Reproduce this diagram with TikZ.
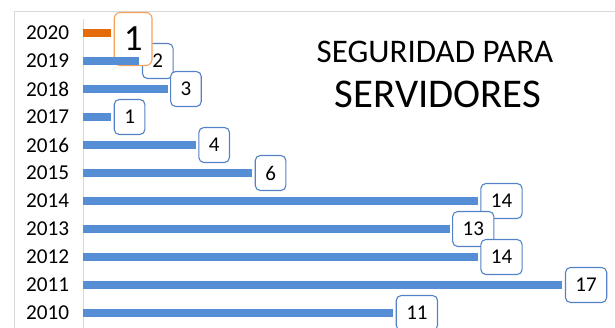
\documentclass[tikz,border=0pt]{standalone}
\usepackage{fontspec}
\setmainfont{Carlito}
\usetikzlibrary{positioning}
\definecolor{barblue}{RGB}{85,142,213}
\definecolor{barorange}{RGB}{228,108,10}
\definecolor{boxblue}{RGB}{84,130,200}
\definecolor{boxorange}{RGB}{246,160,90}
\definecolor{gridgray}{RGB}{217,217,217}
\tikzset{
  year/.style={font=\fontsize{21.2}{23}\selectfont,inner sep=0pt},
  bar/.style={line width=7.5pt,barblue,shorten >=2.5pt},
  lbl/.style={draw=boxblue,line width=1.1pt,fill=white,rounded corners=5pt,
    font=\fontsize{21}{23}\selectfont,minimum height=35pt,inner xsep=10pt,inner ysep=0pt},
  frame/.style={gridgray,line width=0.8pt}
}
\begin{document}
\begin{tikzpicture}[x=1pt,y=1pt,node distance=28pt]
		\useasboundingbox (0,0) rectangle (615,-328);
		\clip (0,0) rectangle (615,-328);
		\draw[frame] (14,-328) -- (14,-11) -- (615,-11);
		\draw[frame] (83,-19) -- (83,-328);
		\coordinate (axis) at (83,0);
		% years
		\node[year](y2020) at (47.5,-33) {2020};
		\node[year](y2019)[below=of y2020.center,anchor=center] {2019};
		\node[year](y2018)[below=of y2019.center,anchor=center] {2018};
		\node[year](y2017)[below=of y2018.center,anchor=center] {2017};
		\node[year](y2016)[below=of y2017.center,anchor=center] {2016};
		\node[year](y2015)[below=of y2016.center,anchor=center] {2015};
		\node[year](y2014)[below=of y2015.center,anchor=center] {2014};
		\node[year](y2013)[below=of y2014.center,anchor=center] {2013};
		\node[year](y2012)[below=of y2013.center,anchor=center] {2012};
		\node[year](y2011)[below=of y2012.center,anchor=center] {2011};
		\node[year](y2010)[below=of y2011.center,anchor=center] {2010};
		\coordinate (a2020) at (y2020 -| axis);
		\coordinate (a2019) at (y2019 -| axis);
		\coordinate (a2018) at (y2018 -| axis);
		\coordinate (a2017) at (y2017 -| axis);
		\coordinate (a2016) at (y2016 -| axis);
		\coordinate (a2015) at (y2015 -| axis);
		\coordinate (a2014) at (y2014 -| axis);
		\coordinate (a2013) at (y2013 -| axis);
		\coordinate (a2012) at (y2012 -| axis);
		\coordinate (a2011) at (y2011 -| axis);
		\coordinate (a2010) at (y2010 -| axis);
		% labels
		\node[lbl](v2019)[right=58.9pt of a2019] {2};
		\node[lbl](v2018)[right=87.1pt of a2018] {3};
		\node[lbl](v2017)[right=30.7pt of a2017] {1};
		\node[lbl](v2016)[right=115.3pt of a2016] {4};
		\node[lbl](v2015)[right=171.7pt of a2015] {6};
		\node[lbl](v2014)[right=397.3pt of a2014] {14};
		\node[lbl](v2013)[right=369.1pt of a2013] {13};
		\node[lbl](v2012)[right=397.3pt of a2012] {14};
		\node[lbl](v2011)[right=481.9pt of a2011] {17};
		\node[lbl](v2010)[right=312.7pt of a2010] {11};
		\node[lbl,draw=boxorange,rounded corners=6pt,font=\fontsize{37}{40}\selectfont,
		  minimum height=53pt,inner xsep=9.5pt](v2020)[right=30.7pt of a2020,yshift=-6pt] {1};
		% bars
		\draw[bar] (a2019) -- (v2019.west);
		\draw[bar] (a2018) -- (v2018.west);
		\draw[bar] (a2017) -- (v2017.west);
		\draw[bar] (a2016) -- (v2016.west);
		\draw[bar] (a2015) -- (v2015.west);
		\draw[bar] (a2014) -- (v2014.west);
		\draw[bar] (a2013) -- (v2013.west);
		\draw[bar] (a2012) -- (v2012.west);
		\draw[bar] (a2011) -- (v2011.west);
		\draw[bar] (a2010) -- (v2010.west);
		\draw[bar,barorange,line width=8pt] (a2020) -- (a2020 -| v2020.west);
		% title
		\node[font=\fontsize{33}{36}\selectfont](title1) at (435,-51.5) {SEGURIDAD PARA};
		\node[font=\fontsize{40.8}{44}\selectfont](title2) at (438,-94.5) {SERVIDORES};
\end{tikzpicture}
\end{document}
